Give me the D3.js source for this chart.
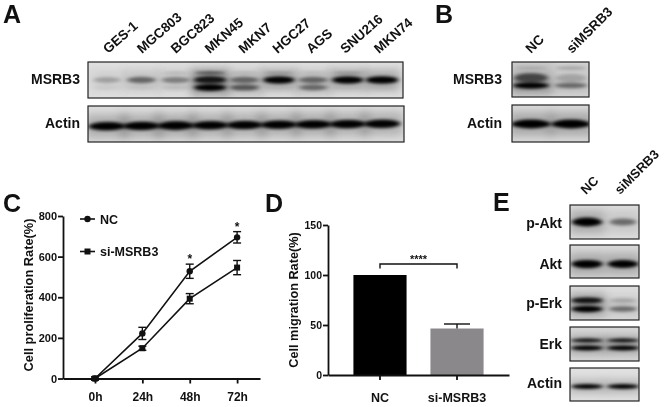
<!DOCTYPE html>
<html>
<head>
<meta charset="utf-8">
<script src="https://cdn.jsdelivr.net/npm/d3@7/dist/d3.min.js"></script>
<style>
  html, body { margin: 0; padding: 0; background: #fff; }
  svg { display: block; filter: blur(0.35px); }
  text { font-family: "Liberation Sans", Arial, sans-serif; font-weight: bold; fill: #111; }
</style>
</head>
<body>
<div id="canvas"></div>
<script>
// panel A: cell lines and band strength per lane (0-1)
const cellLines = ["GES-1", "MGC803", "BGC823", "MKN45", "MKN7", "HGC27", "AGS", "SNU216", "MKN74"];
const msrb3Top = [0.03, 0.03, 0.12, 0.65, 0.12, 0.25, 0.1, 0.25, 0.03];
const msrb3Main = [0.22, 0.45, 0.35, 1, 0.45, 0.9, 0.45, 0.9, 1];
const msrb3Low = [0.05, 0.05, 0.08, 1, 0.5, 0.06, 0.42, 0.05, 0.05];
const actinA = [0.95, 0.95, 1, 0.92, 0.9, 0.92, 0.95, 0.9, 0.9];

// panel B
const groupsB = ["NC", "siMSRB3"];
const msrb3BTop = [0.1, 0.18];
const msrb3BUpper = [0.6, 0.16];
const msrb3BMain = [0.95, 0.42];
const actinB = [1, 1];

// panel C
const hours = [0, 24, 48, 72];
const ncRate = [0, 222, 528, 695];
const siRate = [0, 149, 393, 546];
const ncErr = [8, 30, 35, 28];
const siErr = [8, 10, 25, 35];
const starHours = [48, 72];
const yTicksC = [0, 200, 400, 600, 800];

// panel D
const groupsD = ["NC", "si-MSRB3"];
const migration = [100, 46.5];
const migrationErr = [0, 4.5];
const yTicksD = [0, 50, 100, 150];

// panel E
const groupsE = ["NC", "siMSRB3"];
const pAkt = [1, 0.42];
const akt = [1, 0.95];
const pErkUpper = [1, 0.18];
const pErkLower = [1, 0.42];
const erkUpper = [0.95, 0.95];
const erkLower = [1, 1];
const actinE = [0.9, 0.9];

const width = 664;
const height = 407;

const svg = d3.select("#canvas").append("svg")
    .attr("width", width)
    .attr("height", height);

const defs = svg.append("defs");
defs.append("filter").attr("id", "core").attr("x", "-30%").attr("y", "-150%").attr("width", "160%").attr("height", "400%")
    .append("feGaussianBlur").attr("stdDeviation", "2.4 1.4");
defs.append("filter").attr("id", "halo").attr("x", "-50%").attr("y", "-150%").attr("width", "200%").attr("height", "400%")
    .append("feGaussianBlur").attr("stdDeviation", "4 4");

// panel letters
[["A", 3, 23], ["B", 435, 23], ["C", 3, 212], ["D", 265, 212], ["E", 493, 211]].forEach(([t, x, y]) => {
    svg.append("text").attr("x", x).attr("y", y).style("font-size", "25px").text(t);
});

let blotCount = 0;

// one blot box; rows = [{values, y, h}]
function drawBlot(box, lanes, bandWidth, rows, bg, tilt) {
    const id = "clip" + (blotCount++);
    defs.append("clipPath").attr("id", id).append("rect")
        .attr("x", box.x0).attr("y", box.y0)
        .attr("width", box.x1 - box.x0).attr("height", box.y1 - box.y0);
    const g = svg.append("g").attr("clip-path", `url(#${id})`);
    g.append("rect")
        .attr("x", box.x0).attr("y", box.y0)
        .attr("width", box.x1 - box.x0).attr("height", box.y1 - box.y0)
        .attr("fill", bg);
    const inner = g.append("g");
    if (tilt) inner.attr("transform", `rotate(${tilt} ${(box.x0 + box.x1) / 2} ${(box.y0 + box.y1) / 2})`);
    rows.forEach(row => {
        inner.append("g").selectAll("rect").data(row.values).enter().append("rect")
            .attr("x", (d, i) => lanes(i) - bandWidth / 2 - 3)
            .attr("y", row.y - row.h * 1.5)
            .attr("width", bandWidth + 6)
            .attr("height", row.h * 3)
            .attr("fill", "#555")
            .attr("opacity", d => d * 0.35)
            .attr("filter", "url(#halo)");
        inner.append("g").selectAll("ellipse").data(row.values).enter().append("ellipse")
            .attr("cx", (d, i) => lanes(i))
            .attr("cy", row.y)
            .attr("rx", d => bandWidth / 2 * (0.82 + 0.22 * d))
            .attr("ry", d => row.h / 2 * (0.75 + 0.35 * d))
            .attr("fill", "#000")
            .attr("opacity", d => Math.min(1, d * 1.1))
            .attr("filter", "url(#core)");
    });
    svg.append("rect")
        .attr("x", box.x0).attr("y", box.y0)
        .attr("width", box.x1 - box.x0).attr("height", box.y1 - box.y0)
        .attr("fill", "none").attr("stroke", "#222").attr("stroke-width", 1.2);
}

function rowLabel(t, x, y) {
    svg.append("text").attr("x", x).attr("y", y).attr("text-anchor", "end")
        .style("font-size", "14px").text(t);
}

function laneLabels(names, xScale, y, angle, size) {
    names.forEach((n, i) => {
        svg.append("text")
            .attr("transform", `translate(${xScale(i)},${y}) rotate(${angle})`)
            .style("font-size", size + "px")
            .text(n);
    });
}

// ---- A
const lanesA = d3.scalePoint().domain(d3.range(cellLines.length)).range([107, 382]);
const labelsA = d3.scalePoint().domain(d3.range(cellLines.length)).range([108, 379]);
laneLabels(cellLines, labelsA, 54, -41, 13.5);
drawBlot({x0: 88, x1: 403, y0: 62, y1: 98}, lanesA, 31, [
    {values: msrb3Top, y: 73, h: 3},
    {values: msrb3Main, y: 80, h: 7},
    {values: msrb3Low, y: 87.5, h: 6.5}
], "#e0e0e0");
drawBlot({x0: 88, x1: 404, y0: 106, y1: 142}, lanesA, 36, [
    {values: actinA, y: 125, h: 8}
], "#dedede", -0.5);
rowLabel("MSRB3", 80, 84);
rowLabel("Actin", 80, 128);

// ---- B
const lanesB = d3.scalePoint().domain([0, 1]).range([531, 571]);
const labelsB = d3.scalePoint().domain([0, 1]).range([531, 572]);
laneLabels(groupsB, labelsB, 54, -45, 13.5);
drawBlot({x0: 512, x1: 589, y0: 62, y1: 97}, lanesB, 35, [
    {values: msrb3BTop, y: 68, h: 4},
    {values: msrb3BUpper, y: 78, h: 10},
    {values: msrb3BMain, y: 85.5, h: 6}
], "#dadada");
drawBlot({x0: 512, x1: 589, y0: 105, y1: 142}, lanesB, 38, [
    {values: actinB, y: 124, h: 8}
], "#dadada");
rowLabel("MSRB3", 502, 84);
rowLabel("Actin", 502, 128);

// ---- C
const xC = d3.scaleLinear().domain([-16.2, 83.6]).range([63, 260]);
const yC = d3.scaleLinear().domain([0, 800]).range([378.5, 216]);

const styleAxis = (g, size) => {
    g.attr("font-family", null).attr("font-size", null);
    g.selectAll("path,line").attr("stroke", "#111").attr("stroke-width", 1.8);
    g.selectAll("text").style("font-size", size + "px");
};

svg.append("g").attr("transform", "translate(0,378.5)")
    .call(d3.axisBottom(xC).tickValues(hours).tickFormat(d => d + "h").tickSize(5).tickSizeOuter(0).tickPadding(9))
    .call(styleAxis, 12);
svg.append("g").attr("transform", "translate(63,0)")
    .call(d3.axisLeft(yC).tickValues(yTicksC).tickSize(5).tickSizeOuter(0).tickPadding(1))
    .call(styleAxis, 11);

const lineC = d3.line().x((d, i) => xC(hours[i])).y(d => yC(d));

[[ncRate, ncErr], [siRate, siErr]].forEach(([vals, errs]) => {
    svg.append("path").datum(vals).attr("d", lineC)
        .attr("fill", "none").attr("stroke", "#111").attr("stroke-width", 1.6);
    const eb = svg.append("g").selectAll("g").data(vals).enter().append("g")
        .attr("stroke", "#111").attr("stroke-width", 1.4);
    eb.append("line").attr("x1", (d, i) => xC(hours[i])).attr("x2", (d, i) => xC(hours[i]))
        .attr("y1", (d, i) => yC(d + errs[i])).attr("y2", (d, i) => yC(d - errs[i]));
    [1, -1].forEach(s => {
        eb.append("line").attr("x1", (d, i) => xC(hours[i]) - 4).attr("x2", (d, i) => xC(hours[i]) + 4)
            .attr("y1", (d, i) => yC(d + s * errs[i])).attr("y2", (d, i) => yC(d + s * errs[i]));
    });
});

svg.append("g").selectAll("circle").data(ncRate).enter().append("circle")
    .attr("cx", (d, i) => xC(hours[i])).attr("cy", d => yC(d)).attr("r", 3.2).attr("fill", "#111");
svg.append("g").selectAll("rect").data(siRate).enter().append("rect")
    .attr("x", (d, i) => xC(hours[i]) - 3).attr("y", d => yC(d) - 3)
    .attr("width", 6).attr("height", 6).attr("fill", "#111");

starHours.forEach(h => {
    const v = ncRate[hours.indexOf(h)] + ncErr[hours.indexOf(h)];
    svg.append("text").attr("x", xC(h)).attr("y", yC(v) - 1).attr("text-anchor", "middle")
        .style("font-size", "12px").text("*");
});

svg.append("text").attr("transform", "translate(33,295) rotate(-90)").attr("text-anchor", "middle")
    .style("font-size", "12.8px").text("Cell proliferation Rate(%)");

// legend C
[["NC", 219, "c"], ["si-MSRB3", 251.5, "s"]].forEach(([t, y, m]) => {
    svg.append("line").attr("x1", 80).attr("x2", 95).attr("y1", y).attr("y2", y)
        .attr("stroke", "#111").attr("stroke-width", 1.6);
    if (m === "c") svg.append("circle").attr("cx", 87.5).attr("cy", y).attr("r", 3.2).attr("fill", "#111");
    else svg.append("rect").attr("x", 84.5).attr("y", y - 3).attr("width", 6).attr("height", 6).attr("fill", "#111");
    svg.append("text").attr("x", 100).attr("y", y + 4.5).style("font-size", "12.5px").text(t);
});

// ---- D
const xD = d3.scaleBand().domain(groupsD).range([328, 509]).paddingInner(0.31).paddingOuter(0.33);
const yD = d3.scaleLinear().domain([0, 150]).range([375, 225]);

svg.append("g").selectAll("rect").data(migration).enter().append("rect")
    .attr("x", (d, i) => xD(groupsD[i]))
    .attr("y", d => yD(d))
    .attr("width", xD.bandwidth())
    .attr("height", d => yD(0) - yD(d))
    .attr("fill", (d, i) => i === 0 ? "#000" : "#8a888b");

const errX = xD(groupsD[1]) + xD.bandwidth() / 2;
svg.append("line").attr("x1", errX).attr("x2", errX)
    .attr("y1", yD(migration[1])).attr("y2", yD(migration[1] + migrationErr[1]))
    .attr("stroke", "#111").attr("stroke-width", 1.4);
svg.append("line").attr("x1", errX - 13).attr("x2", errX + 13)
    .attr("y1", yD(migration[1] + migrationErr[1])).attr("y2", yD(migration[1] + migrationErr[1]))
    .attr("stroke", "#111").attr("stroke-width", 1.4);

svg.append("g").attr("transform", "translate(0,375)")
    .call(d3.axisBottom(xD).tickSize(5).tickSizeOuter(0).tickPadding(13))
    .call(styleAxis, 12.5);
svg.append("g").attr("transform", "translate(328,0)")
    .call(d3.axisLeft(yD).tickValues(yTicksD).tickSize(5).tickSizeOuter(0).tickPadding(1))
    .call(styleAxis, 10.5);

svg.append("text").attr("transform", "translate(298,300) rotate(-90)").attr("text-anchor", "middle")
    .style("font-size", "12.7px").text("Cell migration Rate(%)");

// significance bracket
const brL = xD(groupsD[0]) + xD.bandwidth() / 2;
const brR = xD(groupsD[1]) + xD.bandwidth() / 2;
svg.append("path").attr("d", `M${brL},268.5V264H${brR}V268.5`)
    .attr("fill", "none").attr("stroke", "#111").attr("stroke-width", 1.4);
svg.append("text").attr("x", (brL + brR) / 2).attr("y", 263).attr("text-anchor", "middle")
    .style("font-size", "11px").text("****");

// ---- E
const lanesE = d3.scalePoint().domain([0, 1]).range([587, 623]);
const labelsE = d3.scalePoint().domain([0, 1]).range([586, 620]);
laneLabels(groupsE, labelsE, 195, -45, 13);

drawBlot({x0: 570, x1: 639, y0: 205, y1: 239}, lanesE, 29, [{values: pAkt, y: 222, h: 8}], "#dedede");
drawBlot({x0: 570, x1: 639, y0: 245, y1: 278}, lanesE, 30, [{values: akt, y: 264, h: 7.5}], "#dadada");
drawBlot({x0: 570, x1: 639, y0: 286, y1: 320}, lanesE, 30, [
    {values: pErkUpper, y: 300.5, h: 5.5},
    {values: pErkLower, y: 309, h: 6}
], "#dedede");
drawBlot({x0: 570, x1: 639, y0: 327, y1: 361}, lanesE, 31, [
    {values: erkUpper, y: 340.5, h: 3.5},
    {values: erkLower, y: 348, h: 4.5}
], "#d8d8d8");
drawBlot({x0: 570, x1: 639, y0: 368, y1: 401}, lanesE, 31, [{values: actinE, y: 386.5, h: 4.5}], "#e0e0e0");

rowLabel("p-Akt", 562, 228);
rowLabel("Akt", 562, 269);
rowLabel("p-Erk", 562, 308);
rowLabel("Erk", 562, 349);
rowLabel("Actin", 562, 388);
</script>
</body>
</html>
